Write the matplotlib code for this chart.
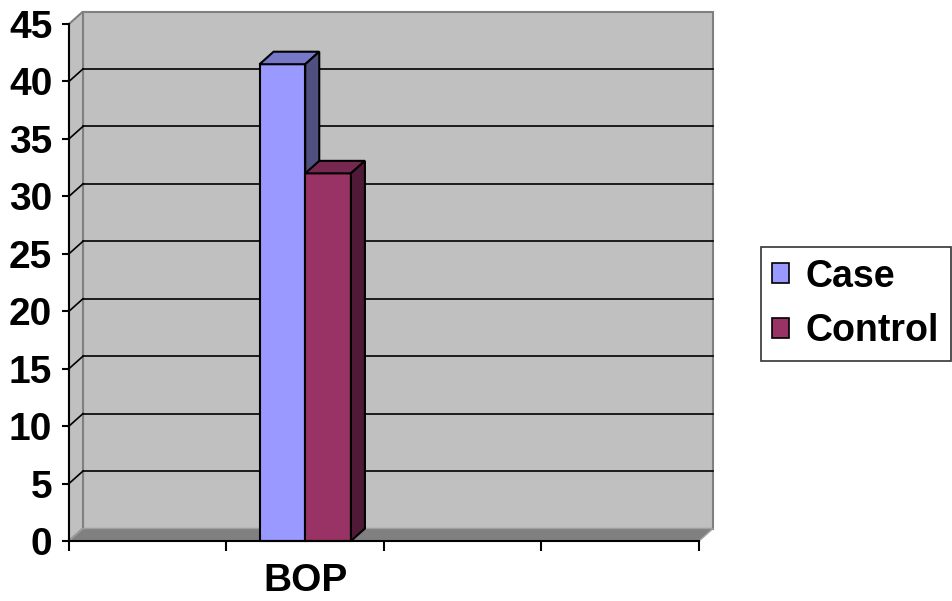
import matplotlib
matplotlib.use("Agg")
import matplotlib.pyplot as plt
from matplotlib.patches import Polygon, Patch

plt.rcParams['font.family'] = ['Liberation Sans', 'DejaVu Sans']
plt.rcParams['font.weight'] = 'bold'

# data
categories = ['', 'BOP', '', '']
series = ['Case', 'Control']
values = {'Case': [41.5], 'Control': [32]}
data_slot = 1  # BOP sits in the second category slot

front = {'Case': '#9999FF', 'Control': '#993366'}
top = {'Case': '#7878C8', 'Control': '#772850'}
side = {'Case': '#4F4F80', 'Control': '#4F1A35'}
wall = '#C0C0C0'
floor_col = '#808080'

W, H = 953, 601
fig = plt.figure(figsize=(W / 100, H / 100), dpi=100)
# front plane of the 3d box
x0px, x1px, y0px, y1px = 69, 699, 541, 24
ax = fig.add_axes([x0px / W, 1 - y0px / H, (x1px - x0px) / W, (y0px - y1px) / H])
ax.set_xlim(-0.5, len(categories) - 0.5)
ax.set_ylim(0, 45)

# depth offset in data units (14 px right, 12.5 px up)
dx = 14 / ((x1px - x0px) / len(categories))
dy = 12.5 / ((y0px - y1px) / 45)
xl, xr = -0.5, len(categories) - 0.5

def poly(pts, fc, ec, lw=1.0, z=1):
    ax.add_patch(Polygon(pts, closed=True, facecolor=fc, edgecolor=ec,
                         linewidth=lw, zorder=z, clip_on=False))

# walls and floor
poly([(xl + dx, dy), (xr + dx, dy), (xr + dx, 45 + dy), (xl + dx, 45 + dy)], wall, '#808080', 1.5, 0.5)
poly([(xl, 0), (xl, 45), (xl + dx, 45 + dy), (xl + dx, dy)], wall, '#808080', 1.5, 0.6)
poly([(xl, 0), (xr, 0), (xr + dx, dy), (xl + dx, dy)], floor_col, '#A0A0A0', 1.0, 0.7)

# gridlines on back wall and side wall
for v in range(5, 45, 5):
    ax.plot([xl + dx, xr + dx], [v + dy, v + dy], color='black', lw=1.2, zorder=0.8, clip_on=False)
    ax.plot([xl, xl + dx], [v, v + dy], color='black', lw=1.2, zorder=0.8, clip_on=False)

# bars: front faces via ax.bar, then top and side faces
bw = 0.29
for i, s in enumerate(series):
    xs = [data_slot + (i - 0.5) * bw]
    ax.bar(xs, values[s], width=bw, color=front[s], edgecolor='black',
           linewidth=1.5, zorder=3 + i, label=s, clip_on=False)
    for xc, v in zip(xs, values[s]):
        a, b = xc - bw / 2, xc + bw / 2
        poly([(a, v), (b, v), (b + dx, v + dy), (a + dx, v + dy)], top[s], 'black', 1.5, 3 + i)
        poly([(b, 0), (b, v), (b + dx, v + dy), (b + dx, dy)], side[s], 'black', 1.5, 3 + i)

# axes styling
for sp in ['top', 'right']:
    ax.spines[sp].set_visible(False)
for sp in ['left', 'bottom']:
    ax.spines[sp].set_linewidth(1.5)
    ax.spines[sp].set_zorder(5)
ax.patch.set_alpha(0)

fs = 28
ax.set_yticks(range(0, 50, 5))
ax.tick_params(axis='y', length=5, width=1.5, pad=7, labelsize=fs)
ax.set_xticks([k - 0.5 for k in range(len(categories) + 1)])
ax.set_xticklabels([])
ax.set_xticks(range(len(categories)), minor=True)
ax.set_xticklabels(categories, minor=True)
ax.tick_params(axis='x', which='major', length=7, width=1.5)
ax.tick_params(axis='x', which='minor', length=0, pad=16, labelsize=fs)
for t in ax.get_yticklabels() + ax.get_xticklabels(minor=True):
    t.set_fontweight('bold')

handles = [Patch(facecolor=front[s], edgecolor='black', linewidth=1.2, label=s) for s in series]
leg = fig.legend(handles=handles, loc='center left', bbox_to_anchor=(761 / W, 1 - 304 / H),
                 frameon=True, fancybox=False, edgecolor='black',
                 prop={'weight': 'bold', 'size': 27}, handlelength=0.45, handleheight=0.45,
                 handletextpad=0.45, borderpad=0.3, labelspacing=0.5, borderaxespad=0)
leg.get_frame().set_linewidth(1.2)

fig.savefig('out.png', dpi=100, facecolor='white')
